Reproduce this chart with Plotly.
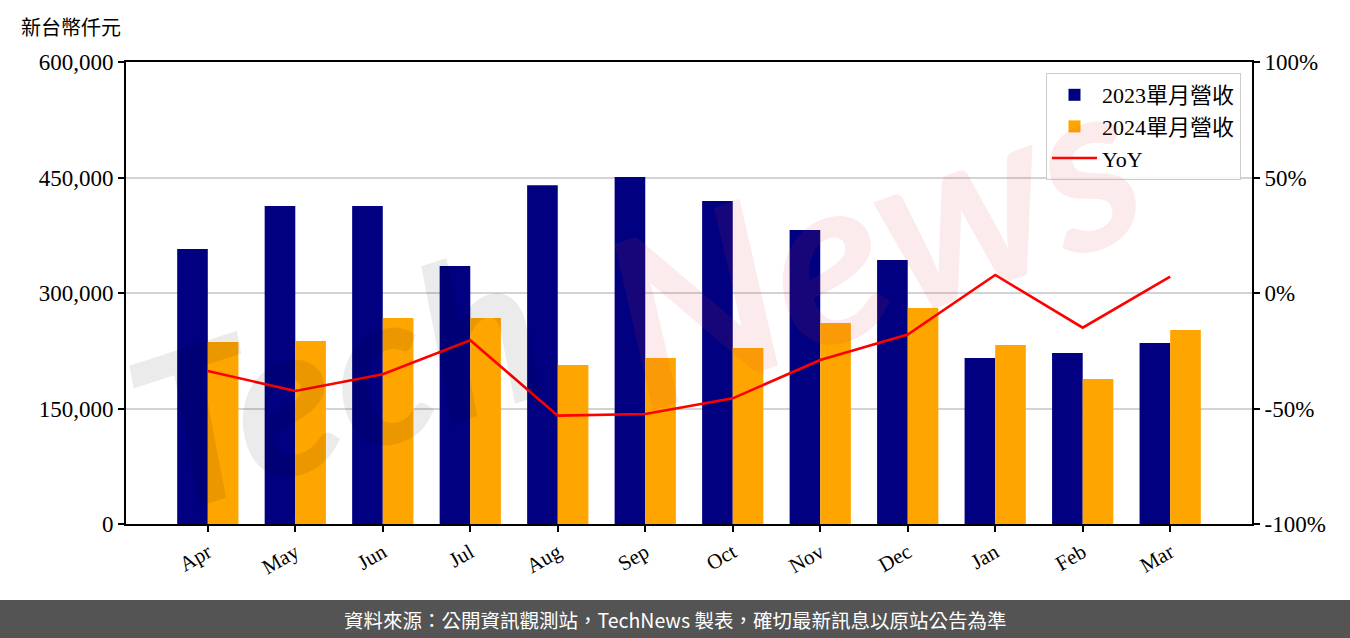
import plotly.graph_objects as go

months = ["Apr", "May", "Jun", "Jul", "Aug", "Sep", "Oct", "Nov", "Dec", "Jan", "Feb", "Mar"]
rev_2023 = [357000, 413000, 413000, 335000, 440000, 450500, 419500, 381800, 342800, 215600, 222000, 235000]
rev_2024 = [236300, 237700, 267500, 267500, 206500, 215600, 228600, 261000, 280500, 232500, 188300, 252000]
yoy = [-33.8, -42.4, -35.2, -20.5, -53.1, -52.4, -45.6, -29.0, -18.0, 7.8, -15.0, 7.1]

y_ticks = [0, 150000, 300000, 450000, 600000]
y_ticktext = ["0", "150,000", "300,000", "450,000", "600,000"]
y2_ticks = [-100, -50, 0, 50, 100]
y2_ticktext = ["-100%", "-50%", "0%", "50%", "100%"]

serif = "Liberation Serif, Noto Sans CJK TC, serif"
cjk_sans = "Noto Sans CJK TC, Noto Sans, sans-serif"

W, H = 1350, 638
L, R, T, B = 126, 98, 62, 114
pw, ph = W - L - R, H - T - B

def px_x(x):
    return (x - L) / pw

def px_y(y):
    return (H - B - y) / ph

fig = go.Figure()
fig.add_trace(go.Bar(x=months, y=rev_2023, name="2023單月營收", marker_color="#000080",
                     marker_line_width=0))
fig.add_trace(go.Bar(x=months, y=rev_2024, name="2024單月營收", marker_color="#FFA500",
                     marker_line_width=0))
fig.add_trace(go.Scatter(x=months, y=yoy, name="YoY", mode="lines", yaxis="y2",
                         line=dict(color="#FF0000", width=2.6)))

# watermark
fig.add_annotation(text="Tech", x=px_x(335), y=px_y(375), xref="paper", yref="paper",
                   xanchor="center", yanchor="middle",
                   showarrow=False, textangle=-18,
                   font=dict(family="Lato, sans-serif", size=215, color="rgba(0,0,0,0.08)",
                             style="italic", weight="bold"))
fig.add_annotation(text="News", x=px_x(870), y=px_y(235), xref="paper", yref="paper",
                   xanchor="center", yanchor="middle",
                   showarrow=False, textangle=-20,
                   font=dict(family="Lato, sans-serif", size=235, color="rgba(215,60,70,0.1)",
                             style="italic", weight="bold"))

# unit label
fig.add_annotation(text="新台幣仟元", x=px_x(19), y=px_y(28), xref="paper", yref="paper",
                   xanchor="left", yanchor="middle", showarrow=False,
                   font=dict(family=serif, size=20, color="#000000"))

# footer
fig.add_shape(type="rect", xref="paper", yref="paper",
              x0=px_x(-2), x1=px_x(W + 2), y0=px_y(600), y1=px_y(H + 2),
              fillcolor="#545454", line_width=0, layer="above")
fig.add_annotation(text="資料來源：公開資訊觀測站，TechNews 製表，確切最新訊息以原站公告為準",
                   x=px_x(W / 2), y=px_y(619), xref="paper", yref="paper",
                   xanchor="center", yanchor="middle", showarrow=False,
                   font=dict(family=cjk_sans, size=19.5, color="#FFFFFF"))

fig.update_layout(
    width=W, height=H,
    margin=dict(l=L, r=R, t=T, b=B),
    paper_bgcolor="#FFFFFF", plot_bgcolor="#FFFFFF",
    barmode="group", bargap=0.3, bargroupgap=0,
    font=dict(family=serif, size=21, color="#000000"),
    showlegend=True,
    legend=dict(x=px_x(1241), y=px_y(73), xanchor="right", yanchor="top",
                bgcolor="rgba(255,255,255,0.85)", bordercolor="#CCCCCC", borderwidth=1,
                font=dict(family=serif, size=22), tracegroupgap=2, itemwidth=45),
    xaxis=dict(range=[-0.935, 11.935], showline=True, linecolor="#000000", linewidth=2,
               mirror=True, ticks="outside", ticklen=6, tickwidth=1.5, tickcolor="#000000",
               tickangle=-30, showgrid=False, tickfont=dict(family=serif, size=21)),
    yaxis=dict(range=[0, 600000], tickvals=y_ticks, ticktext=y_ticktext,
               showline=True, linecolor="#000000", linewidth=2, ticks="outside",
               ticklen=6, tickwidth=1.5, tickcolor="#000000",
               showgrid=True, gridcolor="#D3D3D3", gridwidth=1.5, zeroline=False,
               tickfont=dict(family=serif, size=23)),
    yaxis2=dict(range=[-100, 100], tickvals=y2_ticks, ticktext=y2_ticktext,
                overlaying="y", side="right", showline=True, linecolor="#000000", linewidth=2,
                ticks="outside", ticklen=6, tickwidth=1.5, tickcolor="#000000",
                showgrid=False, zeroline=False, tickfont=dict(family=serif, size=23)),
)

fig.write_html("out.html", config={"displayModeBar": False})

# remove default page margins so the figure sits at the window's top-left corner
with open("out.html", "r", encoding="utf-8") as f:
    html = f.read()
html = html.replace("<head>", "<head><style>html,body{margin:0;padding:0;overflow:hidden;}</style>", 1)
with open("out.html", "w", encoding="utf-8") as f:
    f.write(html)
